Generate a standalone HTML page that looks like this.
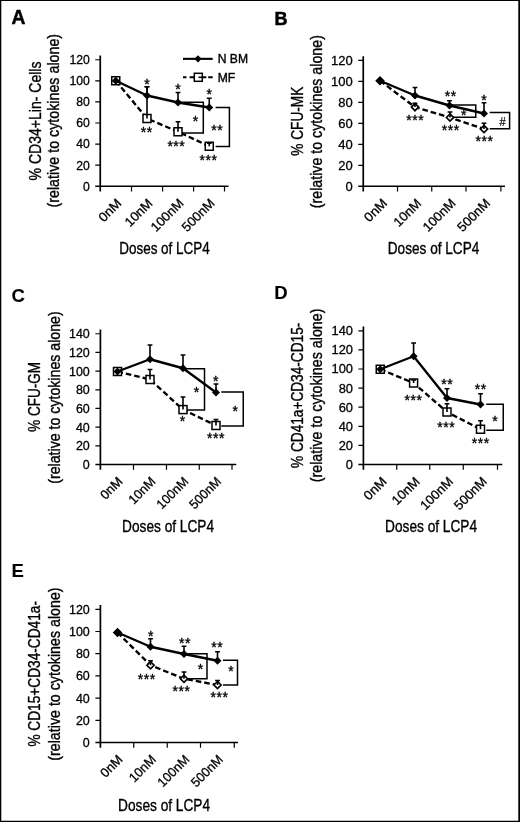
<!DOCTYPE html>
<html lang="en">
<head>
<meta charset="utf-8">
<title>Figure</title>
<style>
html,body{margin:0;padding:0;background:#fff;}
body{width:520px;height:822px;overflow:hidden;position:relative;}
svg{position:absolute;left:0;top:0;display:block;}
svg.plot{filter:blur(0.4px);}
text{font-family:"Liberation Sans", Arial, Helvetica, sans-serif;fill:#000;}
</style>
</head>
<body>
<svg class="plot" width="520" height="822" viewBox="0 0 520 822">
<rect x="0" y="0" width="520" height="822" fill="#fff"/>
<g>
<text x="11.6" y="24.3" font-size="19.3" stroke="#000" stroke-width="0.5" font-weight="bold">A</text>
<text x="40.7" y="180.4" font-size="15.6" stroke="#000" stroke-width="0.35" textLength="118.9" lengthAdjust="spacingAndGlyphs" transform="rotate(-90 40.7 180.4)">% CD34+Lin- Cells</text>
<text x="59" y="207.5" font-size="16.8" stroke="#000" stroke-width="0.35" textLength="173.6" lengthAdjust="spacingAndGlyphs" transform="rotate(-90 59 207.5)">(relative to cytokines alone)</text>
<path d="M100.25 55.47V191.45M95.25 186.25H228.5" fill="none" stroke="#000" stroke-width="1.7"/>
<path d="M95.25 165.17H100.25M95.25 144.09H100.25M95.25 123.01H100.25M95.25 101.93H100.25M95.25 80.85H100.25M95.25 59.77H100.25M131.5 186.25V191.45M162.6 186.25V191.45M193.6 186.25V191.45M224.5 186.25V191.45" fill="none" stroke="#000" stroke-width="1.2"/>
<text x="83" y="190.65" font-size="13" stroke="#000" stroke-width="0.3" textLength="6.8" lengthAdjust="spacingAndGlyphs">0</text>
<text x="76.2" y="169.57" font-size="13" stroke="#000" stroke-width="0.3" textLength="13.6" lengthAdjust="spacingAndGlyphs">20</text>
<text x="76.2" y="148.49" font-size="13" stroke="#000" stroke-width="0.3" textLength="13.6" lengthAdjust="spacingAndGlyphs">40</text>
<text x="76.2" y="127.41" font-size="13" stroke="#000" stroke-width="0.3" textLength="13.6" lengthAdjust="spacingAndGlyphs">60</text>
<text x="76.2" y="106.33" font-size="13" stroke="#000" stroke-width="0.3" textLength="13.6" lengthAdjust="spacingAndGlyphs">80</text>
<text x="69.4" y="85.25" font-size="13" stroke="#000" stroke-width="0.3" textLength="20.4" lengthAdjust="spacingAndGlyphs">100</text>
<text x="69.4" y="64.17" font-size="13" stroke="#000" stroke-width="0.3" textLength="20.4" lengthAdjust="spacingAndGlyphs">120</text>
<text x="95.98" y="204.05" font-size="13" stroke="#000" stroke-width="0.3" textLength="26.3" lengthAdjust="spacingAndGlyphs" transform="rotate(-45 122.28 204.05)">0nM</text>
<text x="120.15" y="204.05" font-size="13" stroke="#000" stroke-width="0.3" textLength="33.3" lengthAdjust="spacingAndGlyphs" transform="rotate(-45 153.45 204.05)">10nM</text>
<text x="144.2" y="204.05" font-size="13" stroke="#000" stroke-width="0.3" textLength="40.3" lengthAdjust="spacingAndGlyphs" transform="rotate(-45 184.5 204.05)">100nM</text>
<text x="175.15" y="204.05" font-size="13" stroke="#000" stroke-width="0.3" textLength="40.3" lengthAdjust="spacingAndGlyphs" transform="rotate(-45 215.45 204.05)">500nM</text>
<text x="119.2" y="253.8" font-size="16.5" stroke="#000" stroke-width="0.35" textLength="90.6" lengthAdjust="spacingAndGlyphs">Doses of LCP4</text>
<path d="M180 102.3H203.3V133H180" fill="none" stroke="#000" stroke-width="1.5"/>
<path d="M215.6 107.5H229.4V146.6H215.6" fill="none" stroke="#000" stroke-width="1.5"/>
<polyline points="115.75,80.75 147,118.5 178,131.75 209.25,146.25" fill="none" stroke="#000" stroke-width="2.35" stroke-dasharray="5.6 3"/>
<rect x="111.75" y="76.75" width="8" height="8" fill="#fff" stroke="#000" stroke-width="1.5"/>
<rect x="143" y="114.5" width="8" height="8" fill="#fff" stroke="#000" stroke-width="1.5"/>
<rect x="174" y="127.75" width="8" height="8" fill="#fff" stroke="#000" stroke-width="1.5"/>
<rect x="205.25" y="142.25" width="8" height="8" fill="#fff" stroke="#000" stroke-width="1.5"/>
<path d="M147 118.5V86.75M144.6 86.75H149.4" fill="none" stroke="#000" stroke-width="1.6"/>
<path d="M178 131.75V121.75M175.6 121.75H180.4" fill="none" stroke="#000" stroke-width="1.6"/>
<path d="M209.25 146.25V143.2M206.85 143.2H211.65" fill="none" stroke="#000" stroke-width="1.6"/>
<path d="M147 95.5V86.75M144.6 86.75H149.4" fill="none" stroke="#000" stroke-width="1.6"/>
<path d="M178 102.5V92.5M175.6 92.5H180.4" fill="none" stroke="#000" stroke-width="1.6"/>
<path d="M209.25 107.5V98.25M206.85 98.25H211.65" fill="none" stroke="#000" stroke-width="1.6"/>
<polyline points="115.75,80.75 147,95.5 178,102.5 209.25,107.5" fill="none" stroke="#000" stroke-width="2.35" stroke-linejoin="round"/>
<path d="M111.75 80.75L115.75 76.75L119.75 80.75L115.75 84.75Z" fill="#000"/>
<path d="M143 95.5L147 91.5L151 95.5L147 99.5Z" fill="#000"/>
<path d="M174 102.5L178 98.5L182 102.5L178 106.5Z" fill="#000"/>
<path d="M205.25 107.5L209.25 103.5L213.25 107.5L209.25 111.5Z" fill="#000"/>
<text x="144.28" y="88.9" font-size="14" letter-spacing="0.55" stroke="#000" stroke-width="0.35">*</text>
<text x="175.28" y="94.4" font-size="14" letter-spacing="0.55" stroke="#000" stroke-width="0.35">*</text>
<text x="206.53" y="99" font-size="14" letter-spacing="0.55" stroke="#000" stroke-width="0.35">*</text>
<text x="140.78" y="137.4" font-size="14" letter-spacing="0.55" stroke="#000" stroke-width="0.35">**</text>
<text x="167.38" y="150.8" font-size="14" letter-spacing="0.55" stroke="#000" stroke-width="0.35">***</text>
<text x="199.53" y="165.4" font-size="14" letter-spacing="0.55" stroke="#000" stroke-width="0.35">***</text>
<text x="192.78" y="126.3" font-size="14" letter-spacing="0.55" stroke="#000" stroke-width="0.35">*</text>
<text x="211.28" y="135.3" font-size="14" letter-spacing="0.55" stroke="#000" stroke-width="0.35">**</text>
<path d="M183 58.85H212.7" stroke="#000" stroke-width="2.1" fill="none"/>
<path d="M194.3 58.85L198 55.15L201.7 58.85L198 62.55Z" fill="#000"/>
<text x="217.7" y="63.3" font-size="13" stroke="#000" stroke-width="0.4" textLength="30.3" lengthAdjust="spacingAndGlyphs">N BM</text>
<path d="M183 77.3H186.5M189.6 77.3H194M203 77.3H206.3M208.2 77.3H212.7" stroke="#000" stroke-width="2.1" fill="none"/>
<rect x="194.3" y="73.3" width="8" height="8" fill="#fff" stroke="#000" stroke-width="1.5"/>
<path d="M198.5 77.3H203" stroke="#000" stroke-width="1.6" fill="none"/>
<text x="217.7" y="82" font-size="13" stroke="#000" stroke-width="0.4" textLength="17.5" lengthAdjust="spacingAndGlyphs">MF</text>
</g>
<g>
<text x="274.6" y="25.4" font-size="18" stroke="#000" stroke-width="0.5" font-weight="bold">B</text>
<text x="303.3" y="155.75" font-size="15.6" stroke="#000" stroke-width="0.35" textLength="69.1" lengthAdjust="spacingAndGlyphs" transform="rotate(-90 303.3 155.75)">% CFU-MK</text>
<text x="322.2" y="208.2" font-size="16.8" stroke="#000" stroke-width="0.35" textLength="173.1" lengthAdjust="spacingAndGlyphs" transform="rotate(-90 322.2 208.2)">(relative to cytokines alone)</text>
<path d="M363.25 56.13V191.45M358.25 186.25H505" fill="none" stroke="#000" stroke-width="1.7"/>
<path d="M358.25 165.28H363.25M358.25 144.31H363.25M358.25 123.34H363.25M358.25 102.37H363.25M358.25 81.4H363.25M358.25 60.43H363.25M397.5 186.25V191.45M431.75 186.25V191.45M466 186.25V191.45M500.9 186.25V191.45" fill="none" stroke="#000" stroke-width="1.2"/>
<text x="345.47" y="190.65" font-size="13" stroke="#000" stroke-width="0.3" textLength="7.23" lengthAdjust="spacingAndGlyphs">0</text>
<text x="338.23" y="169.68" font-size="13" stroke="#000" stroke-width="0.3" textLength="14.47" lengthAdjust="spacingAndGlyphs">20</text>
<text x="338.23" y="148.71" font-size="13" stroke="#000" stroke-width="0.3" textLength="14.47" lengthAdjust="spacingAndGlyphs">40</text>
<text x="338.23" y="127.74" font-size="13" stroke="#000" stroke-width="0.3" textLength="14.47" lengthAdjust="spacingAndGlyphs">60</text>
<text x="338.23" y="106.77" font-size="13" stroke="#000" stroke-width="0.3" textLength="14.47" lengthAdjust="spacingAndGlyphs">80</text>
<text x="331" y="85.8" font-size="13" stroke="#000" stroke-width="0.3" textLength="21.7" lengthAdjust="spacingAndGlyphs">100</text>
<text x="331" y="64.83" font-size="13" stroke="#000" stroke-width="0.3" textLength="21.7" lengthAdjust="spacingAndGlyphs">120</text>
<text x="361.68" y="204.05" font-size="13" stroke="#000" stroke-width="0.3" textLength="26.3" lengthAdjust="spacingAndGlyphs" transform="rotate(-45 387.98 204.05)">0nM</text>
<text x="388.93" y="204.05" font-size="13" stroke="#000" stroke-width="0.3" textLength="33.3" lengthAdjust="spacingAndGlyphs" transform="rotate(-45 422.23 204.05)">10nM</text>
<text x="416.18" y="204.05" font-size="13" stroke="#000" stroke-width="0.3" textLength="40.3" lengthAdjust="spacingAndGlyphs" transform="rotate(-45 456.48 204.05)">100nM</text>
<text x="450.75" y="204.05" font-size="13" stroke="#000" stroke-width="0.3" textLength="40.3" lengthAdjust="spacingAndGlyphs" transform="rotate(-45 491.05 204.05)">500nM</text>
<text x="387.8" y="253.8" font-size="16.5" stroke="#000" stroke-width="0.35" textLength="91.5" lengthAdjust="spacingAndGlyphs">Doses of LCP4</text>
<path d="M452 104.9H475.75V117.3H452" fill="none" stroke="#000" stroke-width="1.5"/>
<path d="M489.7 112.6H509.6V128.7H489.7" fill="none" stroke="#000" stroke-width="1.5"/>
<polyline points="380,80.75 415,107.1 450,117.5 484,129" fill="none" stroke="#000" stroke-width="2.35" stroke-dasharray="5.6 3"/>
<path d="M376.4 80.75L380 77.15L383.6 80.75L380 84.35Z" fill="#fff" stroke="#000" stroke-width="1.7"/>
<path d="M411.4 107.1L415 103.5L418.6 107.1L415 110.7Z" fill="#fff" stroke="#000" stroke-width="1.7"/>
<path d="M446.4 117.5L450 113.9L453.6 117.5L450 121.1Z" fill="#fff" stroke="#000" stroke-width="1.7"/>
<path d="M480.4 129L484 125.4L487.6 129L484 132.6Z" fill="#fff" stroke="#000" stroke-width="1.7"/>
<path d="M415 107.1V103.25M412.6 103.25H417.4" fill="none" stroke="#000" stroke-width="1.6"/>
<path d="M450 117.5V112M447.6 112H452.4" fill="none" stroke="#000" stroke-width="1.6"/>
<path d="M484 129V123.25M481.6 123.25H486.4" fill="none" stroke="#000" stroke-width="1.6"/>
<path d="M415 95.5V87.5M412.6 87.5H417.4" fill="none" stroke="#000" stroke-width="1.6"/>
<path d="M449.5 105.5V100.75M447.1 100.75H451.9" fill="none" stroke="#000" stroke-width="1.6"/>
<path d="M484 113.5V102.8M481.6 102.8H486.4" fill="none" stroke="#000" stroke-width="1.6"/>
<polyline points="380,80.75 415,95.5 449.5,105.5 484,113.5" fill="none" stroke="#000" stroke-width="2.35" stroke-linejoin="round"/>
<path d="M376 80.75L380 76.75L384 80.75L380 84.75Z" fill="#000"/>
<path d="M411 95.5L415 91.5L419 95.5L415 99.5Z" fill="#000"/>
<path d="M445.5 105.5L449.5 101.5L453.5 105.5L449.5 109.5Z" fill="#000"/>
<path d="M480 113.5L484 109.5L488 113.5L484 117.5Z" fill="#000"/>
<text x="444.78" y="101.4" font-size="14" letter-spacing="0.55" stroke="#000" stroke-width="0.35">**</text>
<text x="481.28" y="104.6" font-size="14" letter-spacing="0.55" stroke="#000" stroke-width="0.35">*</text>
<text x="406.28" y="125.1" font-size="14" letter-spacing="0.55" stroke="#000" stroke-width="0.35">***</text>
<text x="441.78" y="134.9" font-size="14" letter-spacing="0.55" stroke="#000" stroke-width="0.35">***</text>
<text x="475.53" y="146.4" font-size="14" letter-spacing="0.55" stroke="#000" stroke-width="0.35">***</text>
<text x="461.03" y="120.4" font-size="14" letter-spacing="0.55" stroke="#000" stroke-width="0.35">*</text>
<text x="499.4" y="125.7" font-size="12" stroke="#000" stroke-width="0.2" textLength="6.2" lengthAdjust="spacingAndGlyphs">#</text>
</g>
<g>
<text x="11.4" y="301.5" font-size="18.5" stroke="#000" stroke-width="0.1" font-weight="bold">C</text>
<text x="40" y="431.8" font-size="15.6" stroke="#000" stroke-width="0.35" textLength="69.8" lengthAdjust="spacingAndGlyphs" transform="rotate(-90 40 431.8)">% CFU-GM</text>
<text x="59.6" y="483.8" font-size="16.8" stroke="#000" stroke-width="0.35" textLength="172.5" lengthAdjust="spacingAndGlyphs" transform="rotate(-90 59.6 483.8)">(relative to cytokines alone)</text>
<path d="M100.4 329.44V469.7M95.4 464.5H236.25" fill="none" stroke="#000" stroke-width="1.7"/>
<path d="M95.4 445.82H100.4M95.4 427.14H100.4M95.4 408.46H100.4M95.4 389.78H100.4M95.4 371.1H100.4M95.4 352.42H100.4M95.4 333.74H100.4M133.5 464.5V469.7M166.5 464.5V469.7M199.25 464.5V469.7M232 464.5V469.7" fill="none" stroke="#000" stroke-width="1.2"/>
<text x="82.87" y="468.9" font-size="13" stroke="#000" stroke-width="0.3" textLength="6.93" lengthAdjust="spacingAndGlyphs">0</text>
<text x="75.93" y="450.22" font-size="13" stroke="#000" stroke-width="0.3" textLength="13.87" lengthAdjust="spacingAndGlyphs">20</text>
<text x="75.93" y="431.54" font-size="13" stroke="#000" stroke-width="0.3" textLength="13.87" lengthAdjust="spacingAndGlyphs">40</text>
<text x="75.93" y="412.86" font-size="13" stroke="#000" stroke-width="0.3" textLength="13.87" lengthAdjust="spacingAndGlyphs">60</text>
<text x="75.93" y="394.18" font-size="13" stroke="#000" stroke-width="0.3" textLength="13.87" lengthAdjust="spacingAndGlyphs">80</text>
<text x="69" y="375.5" font-size="13" stroke="#000" stroke-width="0.3" textLength="20.8" lengthAdjust="spacingAndGlyphs">100</text>
<text x="69" y="356.82" font-size="13" stroke="#000" stroke-width="0.3" textLength="20.8" lengthAdjust="spacingAndGlyphs">120</text>
<text x="69" y="338.14" font-size="13" stroke="#000" stroke-width="0.3" textLength="20.8" lengthAdjust="spacingAndGlyphs">140</text>
<text x="97.97" y="482.3" font-size="13" stroke="#000" stroke-width="0.3" textLength="25.38" lengthAdjust="spacingAndGlyphs" transform="rotate(-45 123.35 482.3)">0nM</text>
<text x="124.27" y="482.3" font-size="13" stroke="#000" stroke-width="0.3" textLength="32.13" lengthAdjust="spacingAndGlyphs" transform="rotate(-45 156.4 482.3)">10nM</text>
<text x="150.39" y="482.3" font-size="13" stroke="#000" stroke-width="0.3" textLength="38.89" lengthAdjust="spacingAndGlyphs" transform="rotate(-45 189.28 482.3)">100nM</text>
<text x="183.14" y="482.3" font-size="13" stroke="#000" stroke-width="0.3" textLength="38.89" lengthAdjust="spacingAndGlyphs" transform="rotate(-45 222.03 482.3)">500nM</text>
<text x="122.1" y="531.7" font-size="16.5" stroke="#000" stroke-width="0.35" textLength="92" lengthAdjust="spacingAndGlyphs">Doses of LCP4</text>
<path d="M185 368.75H204.5V409.9H185" fill="none" stroke="#000" stroke-width="1.5"/>
<path d="M221.25 392H243.25V426H221.25" fill="none" stroke="#000" stroke-width="1.5"/>
<polyline points="117.5,371.5 150,379.5 183,409.6 216,425.5" fill="none" stroke="#000" stroke-width="2.35" stroke-dasharray="5.6 3"/>
<rect x="113.5" y="367.5" width="8" height="8" fill="#fff" stroke="#000" stroke-width="1.5"/>
<rect x="146" y="375.5" width="8" height="8" fill="#fff" stroke="#000" stroke-width="1.5"/>
<rect x="179" y="405.6" width="8" height="8" fill="#fff" stroke="#000" stroke-width="1.5"/>
<rect x="212" y="421.5" width="8" height="8" fill="#fff" stroke="#000" stroke-width="1.5"/>
<path d="M150 379.5V369.5M147.6 369.5H152.4" fill="none" stroke="#000" stroke-width="1.6"/>
<path d="M183 409.6V397M180.6 397H185.4" fill="none" stroke="#000" stroke-width="1.6"/>
<path d="M216 425.5V419.5M213.6 419.5H218.4" fill="none" stroke="#000" stroke-width="1.6"/>
<path d="M150 359.25V345M147.6 345H152.4" fill="none" stroke="#000" stroke-width="1.6"/>
<path d="M183 368.25V355M180.6 355H185.4" fill="none" stroke="#000" stroke-width="1.6"/>
<path d="M216 392.5V384M213.6 384H218.4" fill="none" stroke="#000" stroke-width="1.6"/>
<polyline points="117.5,371.5 150,359.25 183,368.25 216,392.5" fill="none" stroke="#000" stroke-width="2.35" stroke-linejoin="round"/>
<path d="M113.5 371.5L117.5 367.5L121.5 371.5L117.5 375.5Z" fill="#000"/>
<path d="M146 359.25L150 355.25L154 359.25L150 363.25Z" fill="#000"/>
<path d="M179 368.25L183 364.25L187 368.25L183 372.25Z" fill="#000"/>
<path d="M212 392.5L216 388.5L220 392.5L216 396.5Z" fill="#000"/>
<text x="213.03" y="385.5" font-size="14" letter-spacing="0.55" stroke="#000" stroke-width="0.35">*</text>
<text x="179.78" y="426.1" font-size="14" letter-spacing="0.55" stroke="#000" stroke-width="0.35">*</text>
<text x="207.03" y="442.8" font-size="14" letter-spacing="0.55" stroke="#000" stroke-width="0.35">***</text>
<text x="193.78" y="397" font-size="14" letter-spacing="0.55" stroke="#000" stroke-width="0.35">*</text>
<text x="232.53" y="415.8" font-size="14" letter-spacing="0.55" stroke="#000" stroke-width="0.35">*</text>
</g>
<g>
<text x="274.3" y="299.1" font-size="18.5" stroke="#000" stroke-width="0.1" font-weight="bold">D</text>
<text x="302.8" y="467.98" font-size="15.6" stroke="#000" stroke-width="0.35" textLength="145.25" lengthAdjust="spacingAndGlyphs" transform="rotate(-90 302.8 467.98)">% CD41a+CD34-CD15-</text>
<text x="321.8" y="482.3" font-size="16.8" stroke="#000" stroke-width="0.35" textLength="173.8" lengthAdjust="spacingAndGlyphs" transform="rotate(-90 321.8 482.3)">(relative to cytokines alone)</text>
<path d="M363.4 326.5V469.7M358.4 464.5H502.3" fill="none" stroke="#000" stroke-width="1.7"/>
<path d="M358.4 445.4H363.4M358.4 426.3H363.4M358.4 407.2H363.4M358.4 388.1H363.4M358.4 369H363.4M358.4 349.9H363.4M358.4 330.8H363.4M396.75 464.5V469.7M429.75 464.5V469.7M463.25 464.5V469.7M497.5 464.5V469.7" fill="none" stroke="#000" stroke-width="1.2"/>
<text x="345.83" y="468.9" font-size="13" stroke="#000" stroke-width="0.3" textLength="7.17" lengthAdjust="spacingAndGlyphs">0</text>
<text x="338.67" y="449.8" font-size="13" stroke="#000" stroke-width="0.3" textLength="14.33" lengthAdjust="spacingAndGlyphs">20</text>
<text x="338.67" y="430.7" font-size="13" stroke="#000" stroke-width="0.3" textLength="14.33" lengthAdjust="spacingAndGlyphs">40</text>
<text x="338.67" y="411.6" font-size="13" stroke="#000" stroke-width="0.3" textLength="14.33" lengthAdjust="spacingAndGlyphs">60</text>
<text x="338.67" y="392.5" font-size="13" stroke="#000" stroke-width="0.3" textLength="14.33" lengthAdjust="spacingAndGlyphs">80</text>
<text x="331.5" y="373.4" font-size="13" stroke="#000" stroke-width="0.3" textLength="21.5" lengthAdjust="spacingAndGlyphs">100</text>
<text x="331.5" y="354.3" font-size="13" stroke="#000" stroke-width="0.3" textLength="21.5" lengthAdjust="spacingAndGlyphs">120</text>
<text x="331.5" y="335.2" font-size="13" stroke="#000" stroke-width="0.3" textLength="21.5" lengthAdjust="spacingAndGlyphs">140</text>
<text x="361.17" y="482.3" font-size="13" stroke="#000" stroke-width="0.3" textLength="26.3" lengthAdjust="spacingAndGlyphs" transform="rotate(-45 387.47 482.3)">0nM</text>
<text x="387.35" y="482.3" font-size="13" stroke="#000" stroke-width="0.3" textLength="33.3" lengthAdjust="spacingAndGlyphs" transform="rotate(-45 420.65 482.3)">10nM</text>
<text x="413.6" y="482.3" font-size="13" stroke="#000" stroke-width="0.3" textLength="40.3" lengthAdjust="spacingAndGlyphs" transform="rotate(-45 453.9 482.3)">100nM</text>
<text x="447.47" y="482.3" font-size="13" stroke="#000" stroke-width="0.3" textLength="40.3" lengthAdjust="spacingAndGlyphs" transform="rotate(-45 487.77 482.3)">500nM</text>
<text x="385.1" y="532.2" font-size="16.5" stroke="#000" stroke-width="0.35" textLength="92" lengthAdjust="spacingAndGlyphs">Doses of LCP4</text>
<path d="M486.25 404.25H503.25V430.25H486.25" fill="none" stroke="#000" stroke-width="1.5"/>
<polyline points="380.25,369.25 413.6,383 447,412 480.5,429.25" fill="none" stroke="#000" stroke-width="2.35" stroke-dasharray="5.6 3"/>
<rect x="376.25" y="365.25" width="8" height="8" fill="#fff" stroke="#000" stroke-width="1.5"/>
<rect x="409.6" y="379" width="8" height="8" fill="#fff" stroke="#000" stroke-width="1.5"/>
<rect x="443" y="408" width="8" height="8" fill="#fff" stroke="#000" stroke-width="1.5"/>
<rect x="476.5" y="425.25" width="8" height="8" fill="#fff" stroke="#000" stroke-width="1.5"/>
<path d="M413.6 383V380M411.2 380H416" fill="none" stroke="#000" stroke-width="1.6"/>
<path d="M447 412V403.75M444.6 403.75H449.4" fill="none" stroke="#000" stroke-width="1.6"/>
<path d="M480.5 429.25V420.75M478.1 420.75H482.9" fill="none" stroke="#000" stroke-width="1.6"/>
<path d="M413.6 356.25V343M411.2 343H416" fill="none" stroke="#000" stroke-width="1.6"/>
<path d="M447 398V388.75M444.6 388.75H449.4" fill="none" stroke="#000" stroke-width="1.6"/>
<path d="M480.5 404.5V393.75M478.1 393.75H482.9" fill="none" stroke="#000" stroke-width="1.6"/>
<polyline points="380.25,369.25 413.6,356.25 447,398 480.5,404.5" fill="none" stroke="#000" stroke-width="2.35" stroke-linejoin="round"/>
<path d="M376.25 369.25L380.25 365.25L384.25 369.25L380.25 373.25Z" fill="#000"/>
<path d="M409.6 356.25L413.6 352.25L417.6 356.25L413.6 360.25Z" fill="#000"/>
<path d="M443 398L447 394L451 398L447 402Z" fill="#000"/>
<path d="M476.5 404.5L480.5 400.5L484.5 404.5L480.5 408.5Z" fill="#000"/>
<text x="441.28" y="388.8" font-size="14" letter-spacing="0.55" stroke="#000" stroke-width="0.35">**</text>
<text x="474.78" y="394.3" font-size="14" letter-spacing="0.55" stroke="#000" stroke-width="0.35">**</text>
<text x="404.53" y="404.8" font-size="14" letter-spacing="0.55" stroke="#000" stroke-width="0.35">***</text>
<text x="437.28" y="431.8" font-size="14" letter-spacing="0.55" stroke="#000" stroke-width="0.35">***</text>
<text x="471.78" y="448.05" font-size="14" letter-spacing="0.55" stroke="#000" stroke-width="0.35">***</text>
<text x="492.28" y="425.55" font-size="14" letter-spacing="0.55" stroke="#000" stroke-width="0.35">*</text>
</g>
<g>
<text x="11.5" y="577" font-size="18.5" stroke="#000" stroke-width="0.1" font-weight="bold">E</text>
<text x="40.1" y="746.6" font-size="15.6" stroke="#000" stroke-width="0.35" textLength="145.6" lengthAdjust="spacingAndGlyphs" transform="rotate(-90 40.1 746.6)">% CD15+CD34-CD41a-</text>
<text x="59.6" y="760.7" font-size="16.8" stroke="#000" stroke-width="0.35" textLength="173.3" lengthAdjust="spacingAndGlyphs" transform="rotate(-90 59.6 760.7)">(relative to cytokines alone)</text>
<path d="M100.4 605V747.7M95.4 742.5H238" fill="none" stroke="#000" stroke-width="1.7"/>
<path d="M95.4 720.3H100.4M95.4 698.1H100.4M95.4 675.9H100.4M95.4 653.7H100.4M95.4 631.5H100.4M95.4 609.3H100.4M133.75 742.5V747.7M167.25 742.5V747.7M200.5 742.5V747.7M234.25 742.5V747.7" fill="none" stroke="#000" stroke-width="1.2"/>
<text x="82.87" y="746.9" font-size="13" stroke="#000" stroke-width="0.3" textLength="6.93" lengthAdjust="spacingAndGlyphs">0</text>
<text x="75.93" y="724.7" font-size="13" stroke="#000" stroke-width="0.3" textLength="13.87" lengthAdjust="spacingAndGlyphs">20</text>
<text x="75.93" y="702.5" font-size="13" stroke="#000" stroke-width="0.3" textLength="13.87" lengthAdjust="spacingAndGlyphs">40</text>
<text x="75.93" y="680.3" font-size="13" stroke="#000" stroke-width="0.3" textLength="13.87" lengthAdjust="spacingAndGlyphs">60</text>
<text x="75.93" y="658.1" font-size="13" stroke="#000" stroke-width="0.3" textLength="13.87" lengthAdjust="spacingAndGlyphs">80</text>
<text x="69" y="635.9" font-size="13" stroke="#000" stroke-width="0.3" textLength="20.8" lengthAdjust="spacingAndGlyphs">100</text>
<text x="69" y="613.7" font-size="13" stroke="#000" stroke-width="0.3" textLength="20.8" lengthAdjust="spacingAndGlyphs">120</text>
<text x="98.1" y="760.3" font-size="13" stroke="#000" stroke-width="0.3" textLength="25.38" lengthAdjust="spacingAndGlyphs" transform="rotate(-45 123.48 760.3)">0nM</text>
<text x="124.77" y="760.3" font-size="13" stroke="#000" stroke-width="0.3" textLength="32.13" lengthAdjust="spacingAndGlyphs" transform="rotate(-45 156.9 760.3)">10nM</text>
<text x="151.39" y="760.3" font-size="13" stroke="#000" stroke-width="0.3" textLength="38.89" lengthAdjust="spacingAndGlyphs" transform="rotate(-45 190.28 760.3)">100nM</text>
<text x="184.89" y="760.3" font-size="13" stroke="#000" stroke-width="0.3" textLength="38.89" lengthAdjust="spacingAndGlyphs" transform="rotate(-45 223.78 760.3)">500nM</text>
<text x="118.1" y="810.7" font-size="16.5" stroke="#000" stroke-width="0.35" textLength="92" lengthAdjust="spacingAndGlyphs">Doses of LCP4</text>
<path d="M187 653.75H207V678.75H187" fill="none" stroke="#000" stroke-width="1.5"/>
<path d="M223 660.25H237.5V685H223" fill="none" stroke="#000" stroke-width="1.5"/>
<polyline points="117.5,632.5 150.5,665.25 184,678.75 217.5,685" fill="none" stroke="#000" stroke-width="2.35" stroke-dasharray="5.6 3"/>
<path d="M113.9 632.5L117.5 628.9L121.1 632.5L117.5 636.1Z" fill="#fff" stroke="#000" stroke-width="1.7"/>
<path d="M146.9 665.25L150.5 661.65L154.1 665.25L150.5 668.85Z" fill="#fff" stroke="#000" stroke-width="1.7"/>
<path d="M180.4 678.75L184 675.15L187.6 678.75L184 682.35Z" fill="#fff" stroke="#000" stroke-width="1.7"/>
<path d="M213.9 685L217.5 681.4L221.1 685L217.5 688.6Z" fill="#fff" stroke="#000" stroke-width="1.7"/>
<path d="M150.5 665.25V660.75M148.1 660.75H152.9" fill="none" stroke="#000" stroke-width="1.6"/>
<path d="M184 678.75V672M181.6 672H186.4" fill="none" stroke="#000" stroke-width="1.6"/>
<path d="M217.5 685V680.5M215.1 680.5H219.9" fill="none" stroke="#000" stroke-width="1.6"/>
<path d="M150.5 646.75V638.75M148.1 638.75H152.9" fill="none" stroke="#000" stroke-width="1.6"/>
<path d="M184 654V646.25M181.6 646.25H186.4" fill="none" stroke="#000" stroke-width="1.6"/>
<path d="M217.5 660.75V651.75M215.1 651.75H219.9" fill="none" stroke="#000" stroke-width="1.6"/>
<polyline points="117.5,632.5 150.5,646.75 184,654 217.5,660.75" fill="none" stroke="#000" stroke-width="2.35" stroke-linejoin="round"/>
<path d="M113.5 632.5L117.5 628.5L121.5 632.5L117.5 636.5Z" fill="#000"/>
<path d="M146.5 646.75L150.5 642.75L154.5 646.75L150.5 650.75Z" fill="#000"/>
<path d="M180 654L184 650L188 654L184 658Z" fill="#000"/>
<path d="M213.5 660.75L217.5 656.75L221.5 660.75L217.5 664.75Z" fill="#000"/>
<text x="148.03" y="640.55" font-size="14" letter-spacing="0.55" stroke="#000" stroke-width="0.35">*</text>
<text x="179.03" y="647.55" font-size="14" letter-spacing="0.55" stroke="#000" stroke-width="0.35">**</text>
<text x="211.28" y="651.8" font-size="14" letter-spacing="0.55" stroke="#000" stroke-width="0.35">**</text>
<text x="137.78" y="683.8" font-size="14" letter-spacing="0.55" stroke="#000" stroke-width="0.35">***</text>
<text x="172.53" y="696.3" font-size="14" letter-spacing="0.55" stroke="#000" stroke-width="0.35">***</text>
<text x="210.53" y="702.3" font-size="14" letter-spacing="0.55" stroke="#000" stroke-width="0.35">***</text>
<text x="197.78" y="673.8" font-size="14" letter-spacing="0.55" stroke="#000" stroke-width="0.35">*</text>
<text x="228.28" y="676.05" font-size="14" letter-spacing="0.55" stroke="#000" stroke-width="0.35">*</text>
</g>
</svg>
<svg class="frame" width="520" height="822" viewBox="0 0 520 822">
<path d="M0 0H520V822H0Z M1.3 1.0V820.8H518.3V1.0Z" fill="#000" fill-rule="evenodd"/>
</svg>
</body>
</html>
